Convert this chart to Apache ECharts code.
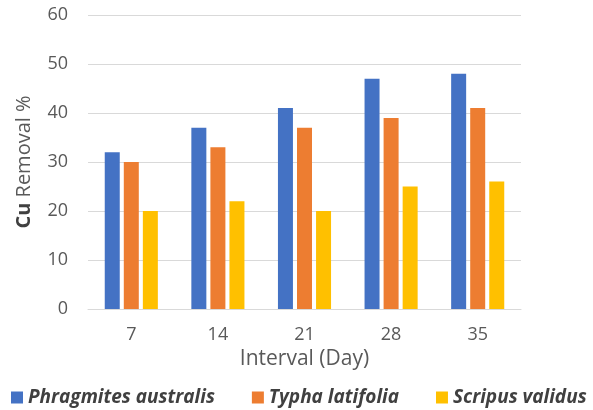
<!DOCTYPE html>
<html>
<head>
<meta charset="utf-8">
<script src="https://cdn.jsdelivr.net/npm/echarts@6/dist/echarts.min.js"></script>
<style>
  html, body { margin: 0; padding: 0; background: #ffffff; }
  #chart { width: 593px; height: 410px; }
</style>
</head>
<body>
<div id="chart"></div>
<script>
// Sampling intervals (days)
const days = ['7', '14', '21', '28', '35'];

// Cu removal (%) per plant species
const phragmites = [32, 37, 41, 47, 48];
const typha = [30, 33, 37, 39, 41];
const scripus = [20, 22, 20, 25, 26];

const speciesNames = ['Phragmites australis', 'Typha latifolia', 'Scripus validus'];
const colors = ['#4472C4', '#ED7D31', '#FFC000'];

const FONT = '"Open Sans", sans-serif';

const chart = echarts.init(document.getElementById('chart'));

chart.setOption({
  animation: false,
  color: colors,
  grid: { left: 88, right: 72, top: 15, bottom: 101, containLabel: false },
  legend: {
    top: 383,
    left: 6,
    icon: 'rect',
    itemWidth: 12,
    itemHeight: 12,
    itemGap: 37,
    textStyle: {
      fontFamily: FONT,
      fontSize: 19,
      fontStyle: 'italic',
      fontWeight: 'bold',
      color: '#404040'
    },
    data: speciesNames
  },
  xAxis: {
    type: 'category',
    data: days,
    name: 'Interval (Day)',
    nameLocation: 'middle',
    nameGap: 38,
    nameTextStyle: { fontFamily: FONT, fontSize: 21, color: '#595959' },
    axisTick: { show: false },
    axisLine: { lineStyle: { color: '#d9d9d9', width: 1 } },
    axisLabel: { fontFamily: FONT, fontSize: 18, color: '#595959', margin: 17 }
  },
  yAxis: {
    type: 'value',
    min: 0,
    max: 60,
    interval: 10,
    name: '{b|Cu} Removal %',
    nameLocation: 'middle',
    nameGap: 54,
    nameTextStyle: {
      fontFamily: FONT,
      fontSize: 20,
      color: '#595959',
      rich: {
        b: { fontFamily: FONT, fontSize: 20, fontWeight: 'bold', color: '#404040' }
      }
    },
    axisLine: { show: false },
    axisTick: { show: false },
    axisLabel: { fontFamily: FONT, fontSize: 18, color: '#595959', margin: 20 },
    splitLine: { lineStyle: { color: '#d9d9d9', width: 1 } }
  },
  series: [
    { name: speciesNames[0], type: 'bar', data: phragmites, barWidth: 15, barGap: '27%' },
    { name: speciesNames[1], type: 'bar', data: typha, barWidth: 15, barGap: '27%' },
    { name: speciesNames[2], type: 'bar', data: scripus, barWidth: 15, barGap: '27%' }
  ]
});
</script>
</body>
</html>
